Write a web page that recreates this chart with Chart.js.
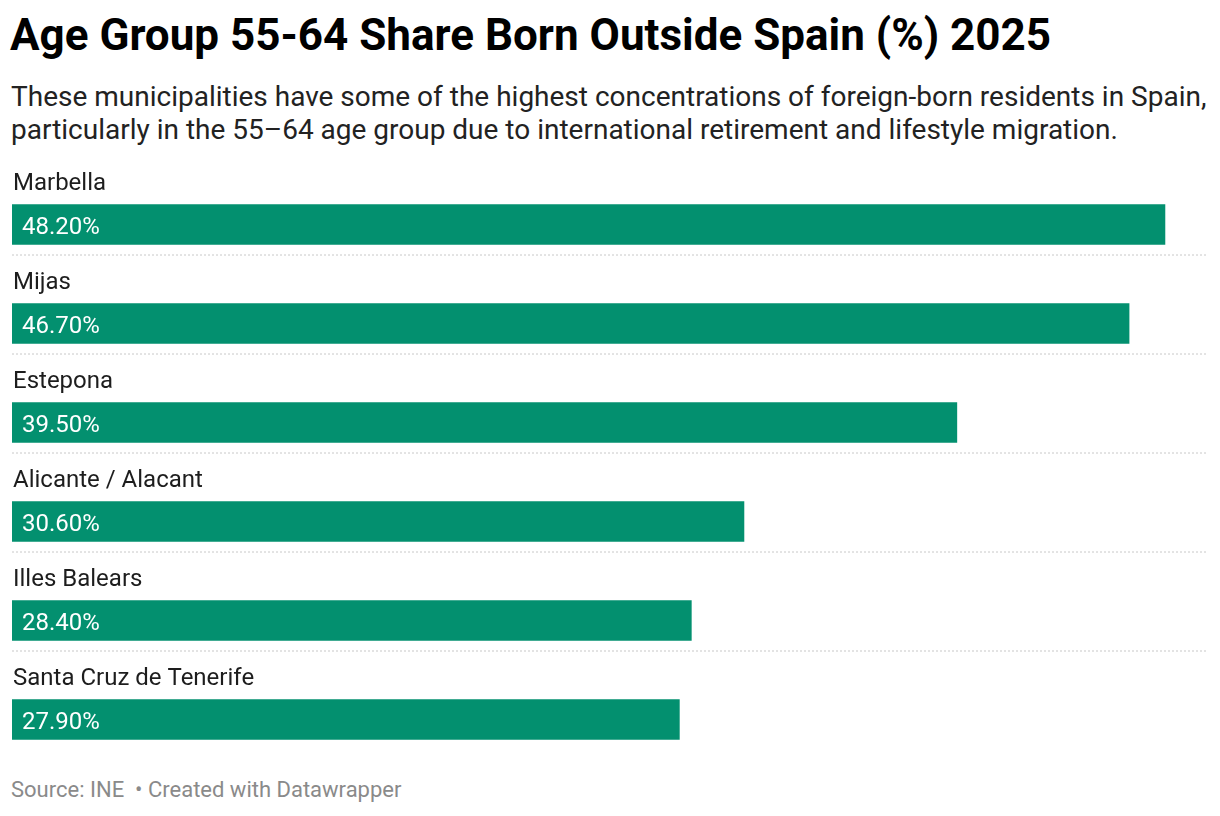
<!DOCTYPE html>
<html>
<head>
<meta charset="utf-8">
<script src="https://cdn.jsdelivr.net/npm/chart.js@4"></script>
<style>
  body { margin: 0; background: #fff; font-family: Roboto, sans-serif; width: 1220px; height: 816px; position: relative; overflow: hidden; }
  .title { position: absolute; left: 10px; top: 13px; font-size: 44px; line-height: 44px; font-weight: 700; color: #000; white-space: nowrap; }
  .sub { position: absolute; left: 11px; top: 80px; font-size: 28px; line-height: 33px; color: #222; white-space: nowrap; }
  .foot { position: absolute; left: 11px; top: 779px; font-size: 22px; line-height: 22px; color: #8a8a8a; white-space: nowrap; }
  #wrap { position: absolute; left: 0; top: 150px; width: 1220px; height: 620px; }
</style>
</head>
<body>
<div class="title">Age Group 55-64 Share Born Outside Spain (%) 2025</div>
<div class="sub">These municipalities have some of the highest concentrations of foreign-born residents in Spain,<br>particularly in the 55–64 age group due to international retirement and lifestyle migration.</div>
<div id="wrap"><canvas id="shareChart"></canvas></div>
<div class="foot">Source: INE &nbsp;• Created with Datawrapper</div>
<script>
const municipalities = ['Marbella', 'Mijas', 'Estepona', 'Alicante / Alacant', 'Illes Balears', 'Santa Cruz de Tenerife'];
const shares = [48.2, 46.7, 39.5, 30.6, 28.4, 27.9];

const barColor = '#03906f';

// labels above bars, values inside, dotted rules between rows
const rowDecor = {
    id: 'rowDecor',
    afterDatasetsDraw(chart) {
        const ctx = chart.ctx;
        const meta = chart.getDatasetMeta(0);
        const left = chart.chartArea.left;
        const right = chart.chartArea.right;
        ctx.save();
        meta.data.forEach((bar, i) => {
            const top = bar.y - bar.height / 2;
            const bottom = bar.y + bar.height / 2;

            ctx.font = '24px Roboto';
            ctx.fillStyle = '#1d1d1d';
            ctx.textAlign = 'left';
            ctx.textBaseline = 'alphabetic';
            ctx.fillText(municipalities[i], left + 1, top - 15);

            ctx.fillStyle = '#ffffff';
            ctx.fillText(shares[i].toFixed(2) + '%', left + 10, bar.y + 9);

            if (i < meta.data.length - 1) {
                ctx.strokeStyle = '#c8c8c8';
                ctx.lineWidth = 1;
                ctx.setLineDash([2, 2]);
                ctx.beginPath();
                ctx.moveTo(left, bottom + 10.5);
                ctx.lineTo(right, bottom + 10.5);
                ctx.stroke();
            }
        });
        ctx.restore();
    }
};

new Chart(document.getElementById('shareChart'), {
    type: 'bar',
    data: {
        labels: municipalities,
        datasets: [
            {
                label: 'Share born outside Spain',
                data: shares,
                backgroundColor: barColor,
                borderWidth: 0,
                barThickness: 40
            }
        ]
    },
    options: {
        indexAxis: 'y',
        responsive: true,
        maintainAspectRatio: false,
        animation: false,
        layout: { padding: { left: 12, right: 12, top: 25, bottom: 1 } },
        scales: {
            x: { min: 0, max: 50, display: false },
            y: { display: false }
        },
        plugins: {
            legend: { display: false },
            tooltip: { enabled: false }
        }
    },
    plugins: [rowDecor]
});
</script>
</body>
</html>
